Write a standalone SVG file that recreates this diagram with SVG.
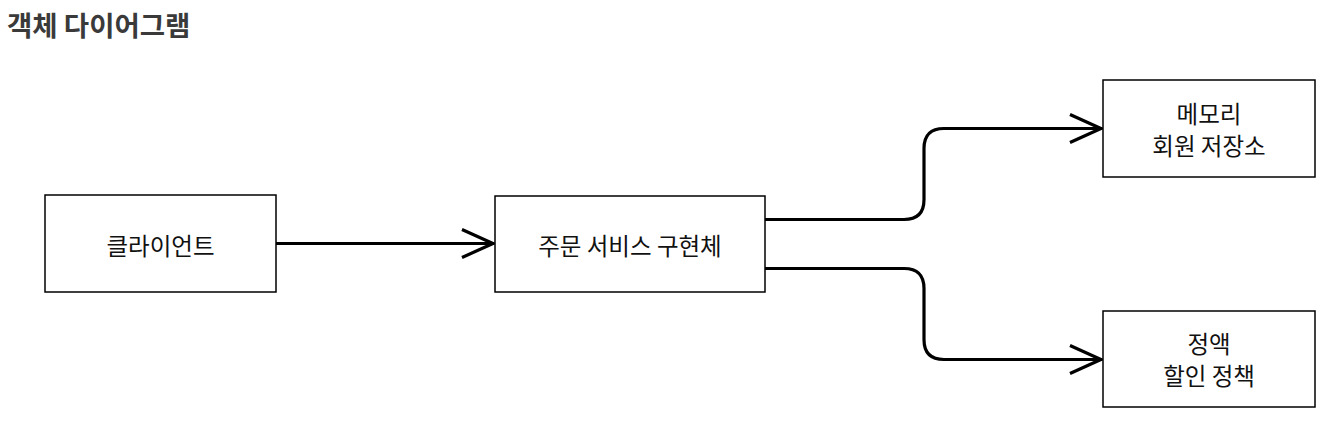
<svg xmlns="http://www.w3.org/2000/svg" width="1328" height="426" viewBox="0 0 1328 426">
<style>
.title{font-family:"Noto Sans CJK KR","Noto Sans",sans-serif;font-weight:bold;font-size:27.5px;fill:#3a3a3a}
.box{fill:#fff;stroke:#000;stroke-width:1.5}
.lbl{font-family:"Noto Sans CJK KR","Noto Sans",sans-serif;font-size:23.5px;fill:#111;text-anchor:middle}
.edge{fill:none;stroke:#000;stroke-width:3.2}
</style>
<defs>
<marker id="arr" markerUnits="userSpaceOnUse" markerWidth="40" markerHeight="40" refX="33" refY="16" orient="auto">
<path d="M1,2 L32,16 L1,30" fill="none" stroke="#000" stroke-width="3.2"/>
</marker>
</defs>
<rect width="1328" height="426" fill="#fff"/>
<text class="title" x="7" y="36">객체 다이어그램</text>
<g id="connectors">
<path class="edge" d="M276,243.5 L494,243.5" marker-end="url(#arr)"/>
<path class="edge" d="M765,219.5 L904,219.5 Q924,219.5 924,199.5 L924,148.5 Q924,128.5 944,128.5 L1102,128.5" marker-end="url(#arr)"/>
<path class="edge" d="M765,268.5 L904,268.5 Q924,268.5 924,288.5 L924,339.5 Q924,359.5 944,359.5 L1102,359.5" marker-end="url(#arr)"/>
</g>
<g id="client">
<rect class="box" x="45" y="195" width="231" height="97"/>
<text class="lbl" x="160.5" y="254.5">클라이언트</text>
</g>
<g id="orderService">
<rect class="box" x="495" y="196" width="270" height="96"/>
<text class="lbl" x="630" y="254.5">주문 서비스 구현체</text>
</g>
<g id="memoryRepo">
<rect class="box" x="1103" y="80" width="212" height="97"/>
<text class="lbl" x="1209" y="122.5">메모리</text>
<text class="lbl" x="1209" y="154.5">회원 저장소</text>
</g>
<g id="fixDiscount">
<rect class="box" x="1103" y="311" width="212" height="96"/>
<text class="lbl" x="1209" y="352.5">정액</text>
<text class="lbl" x="1209" y="384.5">할인 정책</text>
</g>
</svg>
